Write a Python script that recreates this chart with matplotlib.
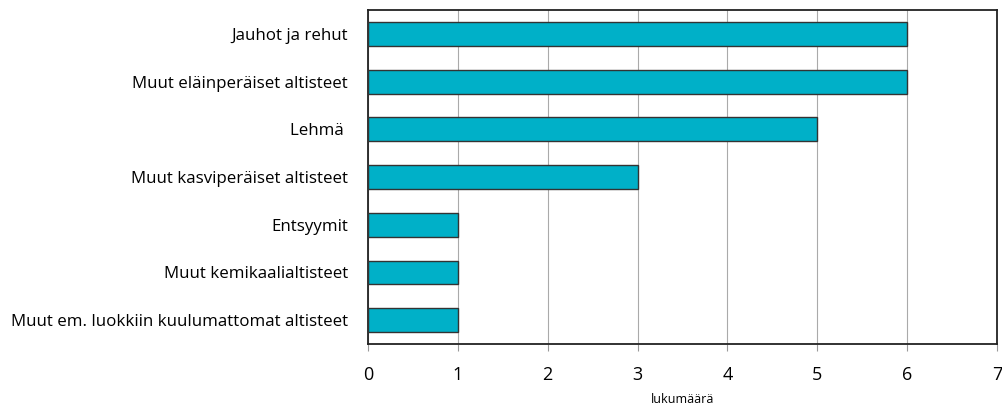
import matplotlib
matplotlib.use('Agg')
import matplotlib.pyplot as plt

# altisteet ja lukumäärät
categories = ['Jauhot ja rehut', 'Muut eläinperäiset altisteet', 'Lehmä ',
              'Muut kasviperäiset altisteet', 'Entsyymit',
              'Muut kemikaalialtisteet', 'Muut em. luokkiin kuulumattomat altisteet']
values = [6, 6, 5, 3, 1, 1, 1]
xticks = [0, 1, 2, 3, 4, 5, 6, 7]

plt.rcParams['font.family'] = ['Open Sans', 'DejaVu Sans']

fig = plt.figure(figsize=(10.02, 4.05), dpi=100)
ax = fig.add_axes([0.3673, 0.1506, 0.6277, 0.8247])

pos = list(range(len(categories)))
ax.barh(pos, values, height=0.5, color='#00B0C8', edgecolor='#333333', linewidth=1, zorder=3)
ax.set_ylim(len(categories) - 0.5, -0.5)
ax.set_xlim(0, 7)
ax.set_yticks(pos)
ax.set_yticklabels(categories, fontsize=12.2)
ax.set_xticks(xticks)
ax.set_xticklabels([str(t) for t in xticks], fontsize=13)
ax.tick_params(axis='y', length=0, pad=14.5)
ax.tick_params(axis='x', length=5, width=0.8, color='#999999', pad=10.5)
ax.xaxis.grid(True, color='#aaaaaa', linewidth=0.8, zorder=0)
for s in ax.spines.values():
    s.set_color('#222222')
    s.set_linewidth(1.3)
ax.set_xlabel('lukumäärä', fontsize=9, labelpad=7)

fig.savefig('out.png', dpi=100)
